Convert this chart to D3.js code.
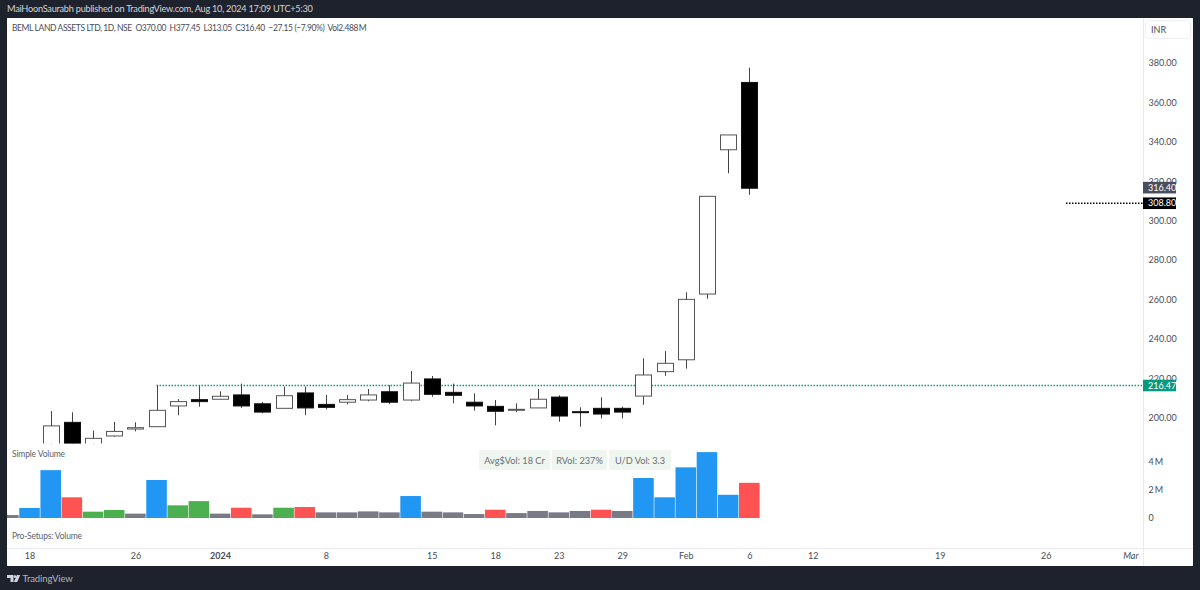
<!DOCTYPE html>
<html><head><meta charset="utf-8">
<script src="https://cdn.jsdelivr.net/npm/d3@7"></script>
<style>
html,body{margin:0;padding:0;background:#1e222d;overflow:hidden}
svg{display:block}
text{font-family:Lato,sans-serif}
.tick line,.domain{display:none}
</style></head><body><svg id="c" width="1200" height="590"></svg>
<script>
// Candle data: bar index 0 .. 33
const opens  = [186,197.8,186,190.9,194.4,195.6,206.1,209.3,209.5,211.7,207.2,204.9,212.7,206.9,208,209.1,213.3,209.1,219.8,213,208,205.9,203.9,205.1,210.6,203.2,204.9,204.9,211.1,223.5,229.5,262.8,335.9,370];
const highs  = [203.5,202.9,193.6,198,197.8,216.6,209.6,216.2,213.5,217.4,208.1,215.9,215.9,211.7,211.7,214.7,216.6,223.8,221.3,217.4,212.5,209.1,207.4,214.7,211.5,205.4,210.5,205.7,230.2,233.9,263.7,312.3,343.4,377.45];
const lows   = [184,185,184,190.5,193.2,195.6,201.4,205.7,209.5,205.1,202.4,204.9,201.4,204.4,206.9,208.5,207.1,208.5,210.8,207.4,203.7,196.3,202.9,205.1,198.1,195.6,199.8,199.8,206.7,221.4,225,260.4,324,313.05];
const closes = [196,187,189.7,193.2,195.1,203.9,208.3,208.3,211,206.1,203,211.3,205.1,205.4,209.3,211.7,208,217.7,212,211.5,206.1,203.4,204.4,209.5,201,202.7,202,203,221.8,227.7,260.1,312.3,343.4,316.4];
// Volume data in millions: bar index -2 .. 33
const volumes = [0.21,0.71,3.4,1.47,0.45,0.57,0.31,2.7,0.9,1.2,0.31,0.73,0.26,0.73,0.78,0.4,0.4,0.47,0.4,1.56,0.45,0.4,0.28,0.59,0.35,0.5,0.4,0.5,0.59,0.5,2.84,1.47,3.6,4.68,1.65,2.5];
const volumeKinds = ["n","b","b","r","g","g","n","b","g","g","n","r","n","g","r","n","n","n","n","b","n","n","n","r","n","n","n","n","r","n","b","b","b","b","b","r"];
const volumeColors = {b:"#2196f3",r:"#ff5252",g:"#4caf50",n:"#787b86"};
// Axis labels
const priceTicks = [200,220,240,260,280,300,320,340,360,380];
const volumeTicks = [0,2,4];
const timeIndex = [-1,4,8,13,18,21,24,27,30,33,36,42,47,51];
const timeLabels = ["18","26","2024","8","15","18","23","29","Feb","6","12","19","26","Mar"];
const boldTime = "2024", italicTime = "Mar";
const lastClose = 316.40, blackLevel = 308.80, greenLevel = 216.47;
const greenLevelStart = 5;
const publishLine = "MaiHoonSaurabh published on TradingView.com, Aug 10, 2024 17:09 UTC+5:30";
const legendLine = "BEML LAND ASSETS LTD, 1D, NSE  O370.00  H377.45  L313.05  C316.40  −27.15 (−7.90%)  Vol2.488\u2009M";
const tableCells = ["Avg$Vol: 18 Cr","RVol: 237%","U/D Vol: 3.3"];

const svg = d3.select("#c");
const L=7,R=1193,T=18,B=566,AX=1143,TX=548,PB=443.5;
const FONT=9;
svg.append("rect").attr("x",L).attr("y",T).attr("width",R-L).attr("height",B-T).attr("fill","#fff");
const defs=svg.append("defs");
defs.append("clipPath").attr("id","pp").append("rect").attr("x",L).attr("y",T).attr("width",AX-L).attr("height",PB-T);
defs.append("clipPath").attr("id","vp").append("rect").attr("x",L).attr("y",PB).attr("width",AX-L).attr("height",TX-PB);

const x=d3.scaleLinear().domain([0,33]).range([50.7,749.3]);
const y=d3.scaleLinear().domain([200,380]).range([418,62.7]);
const v=d3.scaleLinear().domain([0,4]).range([518,461.7]);
const slot=x(1)-x(0), bodyW=16;

// separators
const sep="#e8eaef";
svg.append("line").attr("x1",AX+.5).attr("x2",AX+.5).attr("y1",T).attr("y2",B).attr("stroke",sep);
svg.append("line").attr("x1",L).attr("x2",R).attr("y1",TX+.5).attr("y2",TX+.5).attr("stroke",sep).attr("stroke-width",1.2);

// volume bars
const vg=svg.append("g").attr("clip-path","url(#vp)");
vg.selectAll("rect").data(volumes).join("rect")
 .attr("x",(d,i)=>x(i-2)-slot/2+.3).attr("width",slot-.6)
 .attr("y",d=>v(d)).attr("height",d=>v(0)-v(d))
 .attr("fill",(d,i)=>volumeColors[volumeKinds[i]]);

// level lines
svg.append("line").attr("x1",x(greenLevelStart)).attr("x2",AX).attr("y1",y(greenLevel)).attr("y2",y(greenLevel))
 .attr("stroke","#089981").attr("stroke-width",1.4).attr("stroke-dasharray","1.5 1.5");
svg.append("line").attr("x1",1066).attr("x2",AX).attr("y1",y(blackLevel)).attr("y2",y(blackLevel))
 .attr("stroke","#000").attr("stroke-width",1.4).attr("stroke-dasharray","1.5 1.5");

// candles
const cg=svg.append("g").attr("clip-path","url(#pp)");
const idx=d3.range(closes.length);
cg.selectAll("line").data(idx).join("line")
 .attr("x1",i=>Math.round(x(i))+.5).attr("x2",i=>Math.round(x(i))+.5)
 .attr("y1",i=>y(highs[i])).attr("y2",i=>y(lows[i]))
 .attr("stroke","#444").attr("stroke-width",1);
cg.selectAll("rect").data(idx).join("rect")
 .attr("x",i=>Math.round(x(i))+.5-bodyW/2).attr("width",bodyW)
 .attr("y",i=>y(Math.max(opens[i],closes[i])))
 .attr("height",i=>Math.max(1,Math.abs(y(opens[i])-y(closes[i]))))
 .attr("fill",i=>closes[i]<opens[i]?"#000":"#fff")
 .attr("stroke",i=>closes[i]<opens[i]?"#111":"#555").attr("stroke-width",1);

// axes
const fmtAxis=g=>g.call(s=>s.selectAll("text").attr("font-size",FONT).attr("fill","#4a4d57").attr("font-family",'Lato,sans-serif'));
svg.append("g").attr("transform",`translate(${AX+2.5},0)`)
 .call(d3.axisRight(y).tickValues(priceTicks).tickSize(0).tickFormat(d3.format(".2f"))).call(fmtAxis);
svg.append("g").attr("transform",`translate(${AX+2.5},0)`)
 .call(d3.axisRight(v).tickValues(volumeTicks).tickSize(0).tickFormat(d=>d?d+"\u2009M":"0")).call(fmtAxis);
const tAxis=svg.append("g").attr("transform",`translate(0,${TX+2})`)
 .call(d3.axisBottom(x).tickValues(timeIndex).tickSize(0).tickPadding(3).tickFormat((d,i)=>timeLabels[i])).call(fmtAxis);
tAxis.selectAll("text").attr("font-weight",d=>timeLabels[timeIndex.indexOf(d)]===boldTime?700:400)
 .attr("font-style",d=>timeLabels[timeIndex.indexOf(d)]===italicTime?"italic":"normal");

// price labels
[[lastClose,"#4a4e5c","#fff",-0.6],[blackLevel,"#000","#fff",0],[greenLevel,"#089981","#fff",0]].forEach(([p,bg,fg,off])=>{
 const yy=y(p)+off;
 svg.append("rect").attr("x",AX).attr("y",yy-5.8).attr("width",33).attr("height",11.6).attr("fill",bg);
 svg.append("text").attr("x",AX+5).attr("y",yy+3.2).attr("font-size",FONT).attr("fill",fg).text(p.toFixed(2));
});

// INR box
svg.append("rect").attr("x",1145.5).attr("y",20.5).attr("width",45).attr("height",18).attr("rx",3).attr("fill","#fff").attr("stroke","#eef0f3");
svg.append("text").attr("x",1151).attr("y",33).attr("font-size",FONT).attr("fill","#4a4d57").text("INR");

// legend text
svg.append("text").attr("x",7).attr("y",12).attr("font-size",9.2).attr("letter-spacing",-0.25).attr("fill","#d1d4dc").text(publishLine);
svg.append("text").attr("x",12).attr("y",31).attr("font-size",8.5).attr("letter-spacing",-0.4).attr("fill","#4a4d57").style("white-space","pre").text(legendLine);
svg.append("text").attr("x",12).attr("y",457).attr("font-size",8.5).attr("letter-spacing",-0.15).attr("fill","#5d606b").text("Simple Volume");
svg.append("text").attr("x",12).attr("y",539).attr("font-size",8.5).attr("letter-spacing",-0.2).attr("fill","#5d606b").text("Pro-Setups: Volume");

// table
const cellX=[[479,71],[552,55],[609,62]];
tableCells.forEach((t,i)=>{
 svg.append("rect").attr("x",cellX[i][0]).attr("y",450).attr("width",cellX[i][1]).attr("height",20).attr("fill","#eff6ef");
 svg.append("text").attr("x",cellX[i][0]+cellX[i][1]/2).attr("y",463.5).attr("text-anchor","middle").attr("font-size",9.2).attr("fill","#6a6d78").text(t);
});

// footer logo + name
svg.append("path").attr("fill","#d1d4dc").attr("d","M7 575h6.5v7h-3v-4H7zM17 575h3.2l-3 7h-3.4z");
svg.append("circle").attr("cx",15).attr("cy",576.6).attr("r",1.4).attr("fill","#d1d4dc");
svg.append("text").attr("x",22.5).attr("y",582).attr("font-size",9.5).attr("letter-spacing",-0.1).attr("fill","#b2b5be").text("TradingView");
</script></body></html>
